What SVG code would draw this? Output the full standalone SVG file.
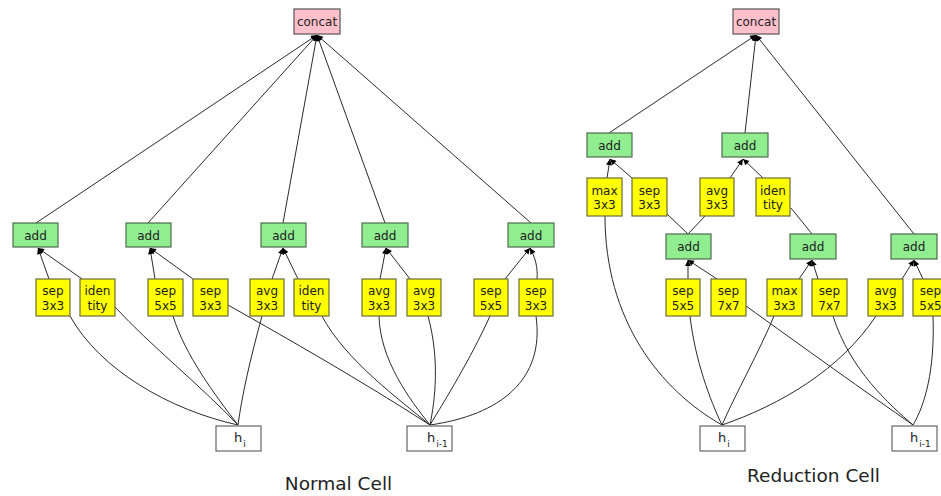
<svg xmlns="http://www.w3.org/2000/svg" width="941" height="496" viewBox="0 0 941 496">
  <style>
    text { font-family: "DejaVu Sans", "Liberation Sans", sans-serif; fill: #222; }
    .lbl { font-size: 12px; text-anchor: middle; }
    .title { font-size: 18.5px; text-anchor: middle; fill: #222; }
    .concat { fill: #ffc0cb; stroke: #555; stroke-width: 1.2; }
    .add { fill: #90ee90; stroke: #4d6b4d; stroke-width: 1.2; }
    .op { fill: #ffff00; stroke: #6b6b3a; stroke-width: 1.2; }
    .inp { fill: #ffffff; stroke: #666; stroke-width: 1.2; }
    .sub { font-size: 9px; }
    .edges path { fill: none; stroke: #2a2a2a; stroke-width: 1; }
    .edges path.arr { marker-end: url(#arrow); }
  </style>
  <defs>
    <marker id="arrow" viewBox="0 0 10 10" refX="10" refY="5" markerWidth="8" markerHeight="6" markerUnits="userSpaceOnUse" orient="auto">
      <path d="M0,0 L10,5 L0,10 z" fill="#000"/>
    </marker>
  </defs>
  <rect width="941" height="496" fill="#fff"/>

  <!-- connectors -->
  <g id="connectors" class="edges">
    <!-- normal cell: adds into concat -->
    <path class="arr" d="M36,223 L317,35"/>
    <path class="arr" d="M148,223 L317,35"/>
    <path class="arr" d="M283,223 L317,35"/>
    <path class="arr" d="M385,223 L317,35"/>
    <path class="arr" d="M531,223 L317,35"/>
    <!-- normal cell: ops into adds -->
    <path class="arr" d="M49,279 L38,248"/>
    <path class="arr" d="M82,279 L38,248"/>
    <path class="arr" d="M155,279 L150,248"/>
    <path class="arr" d="M193,279 L150,248"/>
    <path class="arr" d="M272,279 L283,248"/>
    <path class="arr" d="M298,279 L283,248"/>
    <path class="arr" d="M380,279 L386,248"/>
    <path class="arr" d="M410,279 L386,248"/>
    <path class="arr" d="M505,279 L530,248"/>
    <path class="arr" d="M537,279 C538,267 535,257 530,248"/>
    <!-- normal cell: inputs into ops -->
    <path d="M238,425 C170,410 100,370 70,316"/>
    <path d="M238,425 C200,385 150,345 115,307"/>
    <path d="M238,425 C215,395 185,355 173,316"/>
    <path d="M238,425 C242,395 250,360 262,316"/>
    <path d="M430,425 C360,380 290,340 228,305"/>
    <path d="M430,425 C400,400 345,360 322,316"/>
    <path d="M430,425 C410,400 380,360 379,316"/>
    <path d="M430,425 C435,400 440,360 428,316"/>
    <path d="M430,425 C445,400 470,360 490,316"/>
    <path d="M430,425 C500,415 545,380 536,316"/>

    <!-- reduction cell: into concat -->
    <path class="arr" d="M609,133 L756,35"/>
    <path class="arr" d="M745,133 L756,35"/>
    <path class="arr" d="M914,234 L756,35"/>
    <!-- reduction cell: ops into adds -->
    <path class="arr" d="M607,178 L610,159"/>
    <path class="arr" d="M632,178 L610,159"/>
    <path class="arr" d="M730,178 L743,159"/>
    <path class="arr" d="M763,178 L743,159"/>
    <path class="arr" d="M688,279 L688,260"/>
    <path class="arr" d="M717,279 L688,260"/>
    <path class="arr" d="M799,279 L812,260"/>
    <path class="arr" d="M818,279 L812,260"/>
    <path class="arr" d="M902,279 L914,260"/>
    <path class="arr" d="M923,279 L914,260"/>
    <!-- reduction cell: adds into ops -->
    <path d="M688,234 L667,214"/>
    <path d="M688,234 L705,216"/>
    <path d="M812,234 L791,208"/>
    <!-- reduction cell: inputs into ops -->
    <path d="M722,425 C660,390 605,320 605,216"/>
    <path d="M722,425 C710,400 695,360 690,316"/>
    <path d="M722,425 C735,395 760,350 774,316"/>
    <path d="M722,425 C780,405 840,370 876,316"/>
    <path d="M913,425 C870,395 800,345 746,306"/>
    <path d="M913,425 C890,405 850,370 833,316"/>
    <path d="M913,425 C925,405 935,370 933,316"/>
  </g>

  <!-- normal cell nodes -->
  <g id="n_concat"><rect class="concat" x="294" y="9" width="46" height="25"/><text class="lbl" x="317" y="26">concat</text></g>
  <g id="n_add1"><rect class="add" x="13" y="223" width="45" height="24"/><text class="lbl" x="35.5" y="239.5">add</text></g>
  <g id="n_add2"><rect class="add" x="126" y="223" width="45" height="24"/><text class="lbl" x="148.5" y="239.5">add</text></g>
  <g id="n_add3"><rect class="add" x="261" y="223" width="45" height="24"/><text class="lbl" x="283.5" y="239.5">add</text></g>
  <g id="n_add4"><rect class="add" x="362" y="223" width="46" height="24"/><text class="lbl" x="385" y="239.5">add</text></g>
  <g id="n_add5"><rect class="add" x="508" y="223" width="46" height="24"/><text class="lbl" x="531" y="239.5">add</text></g>
  <g id="n_op1"><rect class="op" x="36" y="279" width="34" height="37"/><text class="lbl" x="53" y="295">sep</text><text class="lbl" x="53" y="309.5">3x3</text></g>
  <g id="n_op2"><rect class="op" x="80" y="279" width="35" height="37"/><text class="lbl" x="97.5" y="295">iden</text><text class="lbl" x="97.5" y="309.5">tity</text></g>
  <g id="n_op3"><rect class="op" x="148" y="279" width="35" height="37"/><text class="lbl" x="165.5" y="295">sep</text><text class="lbl" x="165.5" y="309.5">5x5</text></g>
  <g id="n_op4"><rect class="op" x="193" y="279" width="35" height="37"/><text class="lbl" x="210.5" y="295">sep</text><text class="lbl" x="210.5" y="309.5">3x3</text></g>
  <g id="n_op5"><rect class="op" x="250" y="279" width="34" height="37"/><text class="lbl" x="267" y="295">avg</text><text class="lbl" x="267" y="309.5">3x3</text></g>
  <g id="n_op6"><rect class="op" x="294" y="279" width="35" height="37"/><text class="lbl" x="311.5" y="295">iden</text><text class="lbl" x="311.5" y="309.5">tity</text></g>
  <g id="n_op7"><rect class="op" x="362" y="279" width="34" height="37"/><text class="lbl" x="379" y="295">avg</text><text class="lbl" x="379" y="309.5">3x3</text></g>
  <g id="n_op8"><rect class="op" x="407" y="279" width="34" height="37"/><text class="lbl" x="424" y="295">avg</text><text class="lbl" x="424" y="309.5">3x3</text></g>
  <g id="n_op9"><rect class="op" x="474" y="279" width="34" height="37"/><text class="lbl" x="491" y="295">sep</text><text class="lbl" x="491" y="309.5">5x5</text></g>
  <g id="n_op10"><rect class="op" x="519" y="279" width="34" height="37"/><text class="lbl" x="536" y="295">sep</text><text class="lbl" x="536" y="309.5">3x3</text></g>
  <g id="n_hi"><rect class="inp" x="216" y="426" width="45" height="25"/><text x="234" y="442" font-size="13">h<tspan class="sub" dx="1" dy="5">i</tspan></text></g>
  <g id="n_hprev"><rect class="inp" x="407" y="426" width="45" height="25"/><text x="427" y="442" font-size="13">h<tspan class="sub" dx="1" dy="5">i-1</tspan></text></g>
  <text class="title" x="338.5" y="490">Normal Cell</text>

  <!-- reduction cell nodes -->
  <g id="r_concat"><rect class="concat" x="733" y="9" width="46" height="25"/><text class="lbl" x="756" y="26">concat</text></g>
  <g id="r_add1"><rect class="add" x="587" y="133" width="45" height="24"/><text class="lbl" x="609.5" y="149.5">add</text></g>
  <g id="r_add2"><rect class="add" x="722" y="133" width="46" height="24"/><text class="lbl" x="745" y="149.5">add</text></g>
  <g id="r_add3"><rect class="add" x="666" y="234" width="45" height="25"/><text class="lbl" x="688.5" y="251">add</text></g>
  <g id="r_add4"><rect class="add" x="790" y="234" width="46" height="25"/><text class="lbl" x="813" y="251">add</text></g>
  <g id="r_add5"><rect class="add" x="891" y="234" width="46" height="25"/><text class="lbl" x="914" y="251">add</text></g>
  <g id="r_op1"><rect class="op" x="587" y="178" width="35" height="38"/><text class="lbl" x="604.5" y="194.5">max</text><text class="lbl" x="604.5" y="209">3x3</text></g>
  <g id="r_op2"><rect class="op" x="632" y="178" width="35" height="38"/><text class="lbl" x="649.5" y="194.5">sep</text><text class="lbl" x="649.5" y="209">3x3</text></g>
  <g id="r_op3"><rect class="op" x="700" y="178" width="34" height="38"/><text class="lbl" x="717" y="194.5">avg</text><text class="lbl" x="717" y="209">3x3</text></g>
  <g id="r_op4"><rect class="op" x="756" y="178" width="34" height="38"/><text class="lbl" x="773" y="194.5">iden</text><text class="lbl" x="773" y="209">tity</text></g>
  <g id="r_op5"><rect class="op" x="666" y="279" width="34" height="37"/><text class="lbl" x="683" y="295">sep</text><text class="lbl" x="683" y="309.5">5x5</text></g>
  <g id="r_op6"><rect class="op" x="711" y="279" width="35" height="37"/><text class="lbl" x="728.5" y="295">sep</text><text class="lbl" x="728.5" y="309.5">7x7</text></g>
  <g id="r_op7"><rect class="op" x="767" y="279" width="35" height="37"/><text class="lbl" x="784.5" y="295">max</text><text class="lbl" x="784.5" y="309.5">3x3</text></g>
  <g id="r_op8"><rect class="op" x="812" y="279" width="35" height="37"/><text class="lbl" x="829.5" y="295">sep</text><text class="lbl" x="829.5" y="309.5">7x7</text></g>
  <g id="r_op9"><rect class="op" x="868" y="279" width="35" height="37"/><text class="lbl" x="885.5" y="295">avg</text><text class="lbl" x="885.5" y="309.5">3x3</text></g>
  <g id="r_op10"><rect class="op" x="913" y="279" width="35" height="37"/><text class="lbl" x="930.5" y="295">sep</text><text class="lbl" x="930.5" y="309.5">5x5</text></g>
  <g id="r_hi"><rect class="inp" x="700" y="426" width="45" height="25"/><text x="718" y="442" font-size="13">h<tspan class="sub" dx="1" dy="5">i</tspan></text></g>
  <g id="r_hprev"><rect class="inp" x="892" y="426" width="45" height="25"/><text x="910" y="442" font-size="13">h<tspan class="sub" dx="1" dy="5">i-1</tspan></text></g>
  <text class="title" x="813.5" y="482">Reduction Cell</text>
</svg>
